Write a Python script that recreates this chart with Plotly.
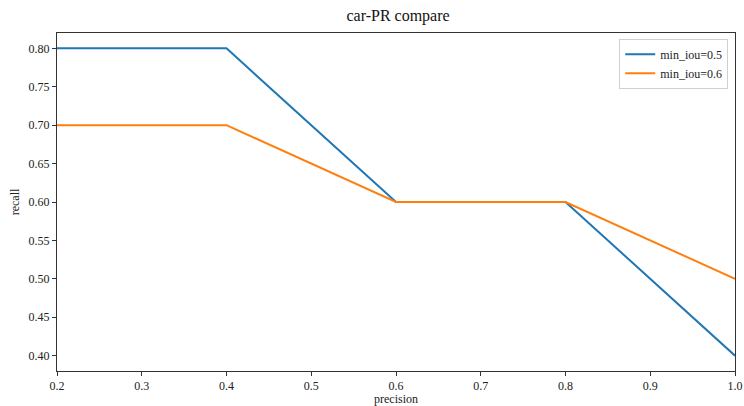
import plotly.graph_objects as go

precision = [0.2, 0.4, 0.6, 0.8, 1.0]
recall_iou05 = [0.8, 0.8, 0.6, 0.6, 0.4]
recall_iou06 = [0.7, 0.7, 0.6, 0.6, 0.5]
x_ticks = [0.2, 0.3, 0.4, 0.5, 0.6, 0.7, 0.8, 0.9, 1.0]
y_ticks = [0.40, 0.45, 0.50, 0.55, 0.60, 0.65, 0.70, 0.75, 0.80]

SERIF = "Liberation Serif, Times New Roman, serif"

fig = go.Figure()
fig.add_scatter(x=precision, y=recall_iou05, mode="lines", name="min_iou=0.5",
                line={"color": "#1f77b4", "width": 2})
fig.add_scatter(x=precision, y=recall_iou06, mode="lines", name="min_iou=0.6",
                line={"color": "#ff7f0e", "width": 2})

fig.update_layout(
    width=744,
    height=406,
    template="simple_white",
    paper_bgcolor="white",
    plot_bgcolor="white",
    font={"family": SERIF, "size": 12, "color": "#222"},
    title={"text": "car-PR compare", "x": 0.535, "xanchor": "center", "y": 0.962,
           "yanchor": "middle", "font": {"size": 16, "family": SERIF, "color": "#111"}},
    margin={"l": 57, "r": 9, "t": 33, "b": 35},
    legend={"x": 0.99, "y": 0.983, "xanchor": "right", "yanchor": "top",
            "itemwidth": 30, "tracegroupgap": 0,
            "bordercolor": "#d0d0d0", "borderwidth": 1, "bgcolor": "rgba(255,255,255,0.8)",
            "font": {"size": 12, "family": SERIF}},
)
fig.update_xaxes(
    range=[0.2, 1.0], tickvals=x_ticks, ticktext=[f"{v:.1f}" for v in x_ticks],
    showline=True, mirror=True, linecolor="#333", linewidth=1, automargin=False,
    ticks="outside", ticklen=4, tickcolor="#333", showgrid=False, zeroline=False,
    title={"text": "precision", "standoff": 4, "font": {"size": 12, "family": SERIF}},
)
fig.update_yaxes(
    range=[0.38, 0.82], tickvals=y_ticks, ticktext=[f"{v:.2f}" for v in y_ticks],
    showline=True, mirror=True, linecolor="#333", linewidth=1, automargin=False,
    ticks="outside", ticklen=4, tickcolor="#333", showgrid=False, zeroline=False,
    title={"text": "recall", "standoff": 6, "font": {"size": 12, "family": SERIF}},
)

fig.write_html("out.html", config={"displayModeBar": False},
               post_script="document.body.style.margin='0';")
